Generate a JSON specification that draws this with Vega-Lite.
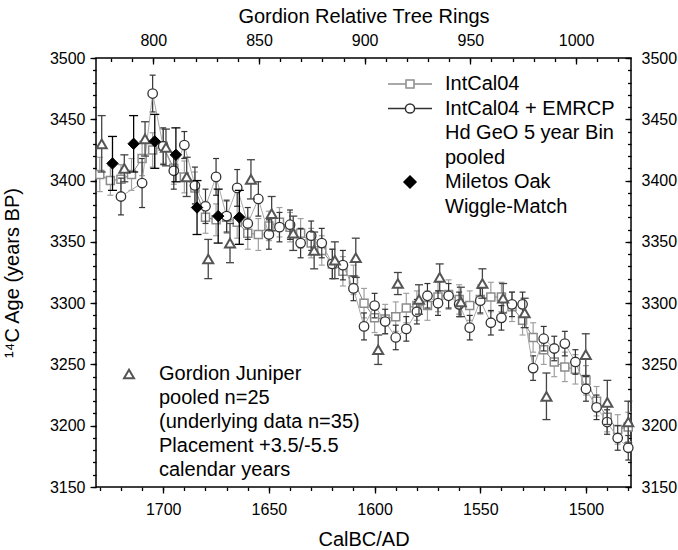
{
"$schema": "https://vega.github.io/schema/vega-lite/v6.json",
"width": 535, "height": 429,
"autosize": {"type": "none"},
"padding": {"left": 96, "top": 58, "right": 47, "bottom": 63},
"background": "white",
"config": {
 "font": "Liberation Sans",
 "view": {"stroke": "black", "strokeWidth": 1.5, "fill": "white"},
 "axis": {"domain": false, "grid": false, "tickColor": "black", "tickWidth": 1.3, "labelColor": "black", "labelFontSize": 16, "titleFontSize": 20, "titleFontWeight": "normal", "titleColor": "black", "labelFont": "Liberation Sans", "titleFont": "Liberation Sans"},
 "legend": {"labelFont": "Liberation Sans", "labelColor": "black"}
},
"data": {"values": [
{"s":"I","x":1730,"y":3405,"lo":3391,"hi":3419},
{"s":"I","x":1725,"y":3400,"lo":3388,"hi":3412},
{"s":"I","x":1720,"y":3401,"lo":3389,"hi":3413},
{"s":"I","x":1715,"y":3405,"lo":3392,"hi":3418},
{"s":"I","x":1710,"y":3418,"lo":3404,"hi":3432},
{"s":"I","x":1705,"y":3425,"lo":3411,"hi":3439},
{"s":"I","x":1700,"y":3428,"lo":3414,"hi":3442},
{"s":"I","x":1695,"y":3410,"lo":3397,"hi":3423},
{"s":"I","x":1690,"y":3403,"lo":3390,"hi":3416},
{"s":"I","x":1685,"y":3394,"lo":3381,"hi":3407},
{"s":"I","x":1680,"y":3370,"lo":3357,"hi":3383},
{"s":"I","x":1675,"y":3368,"lo":3355,"hi":3381},
{"s":"I","x":1670,"y":3370,"lo":3357,"hi":3383},
{"s":"I","x":1665,"y":3366,"lo":3353,"hi":3379},
{"s":"I","x":1660,"y":3357,"lo":3344,"hi":3370},
{"s":"I","x":1655,"y":3356,"lo":3343,"hi":3369},
{"s":"I","x":1650,"y":3363,"lo":3351,"hi":3375},
{"s":"I","x":1645,"y":3366,"lo":3354,"hi":3378},
{"s":"I","x":1640,"y":3362,"lo":3350,"hi":3374},
{"s":"I","x":1635,"y":3357,"lo":3345,"hi":3369},
{"s":"I","x":1630,"y":3349,"lo":3337,"hi":3361},
{"s":"I","x":1625,"y":3343,"lo":3331,"hi":3355},
{"s":"I","x":1620,"y":3332,"lo":3320,"hi":3344},
{"s":"I","x":1615,"y":3326,"lo":3314,"hi":3338},
{"s":"I","x":1610,"y":3319,"lo":3307,"hi":3331},
{"s":"I","x":1605,"y":3300,"lo":3288,"hi":3312},
{"s":"I","x":1600,"y":3288,"lo":3276,"hi":3300},
{"s":"I","x":1595,"y":3287,"lo":3275,"hi":3299},
{"s":"I","x":1590,"y":3289,"lo":3277,"hi":3301},
{"s":"I","x":1585,"y":3296,"lo":3284,"hi":3308},
{"s":"I","x":1580,"y":3298,"lo":3286,"hi":3310},
{"s":"I","x":1575,"y":3298,"lo":3286,"hi":3310},
{"s":"I","x":1570,"y":3305,"lo":3293,"hi":3317},
{"s":"I","x":1565,"y":3307,"lo":3295,"hi":3319},
{"s":"I","x":1560,"y":3303,"lo":3291,"hi":3315},
{"s":"I","x":1555,"y":3298,"lo":3286,"hi":3310},
{"s":"I","x":1550,"y":3303,"lo":3291,"hi":3315},
{"s":"I","x":1545,"y":3305,"lo":3293,"hi":3317},
{"s":"I","x":1540,"y":3305,"lo":3293,"hi":3317},
{"s":"I","x":1535,"y":3297,"lo":3285,"hi":3309},
{"s":"I","x":1530,"y":3286,"lo":3274,"hi":3298},
{"s":"I","x":1525,"y":3272,"lo":3260,"hi":3284},
{"s":"I","x":1520,"y":3262,"lo":3250,"hi":3274},
{"s":"I","x":1515,"y":3252,"lo":3240,"hi":3264},
{"s":"I","x":1510,"y":3248,"lo":3236,"hi":3260},
{"s":"I","x":1505,"y":3246,"lo":3234,"hi":3258},
{"s":"I","x":1500,"y":3237,"lo":3225,"hi":3249},
{"s":"I","x":1495,"y":3220,"lo":3208,"hi":3232},
{"s":"I","x":1490,"y":3207,"lo":3195,"hi":3219},
{"s":"I","x":1485,"y":3197,"lo":3185,"hi":3209},
{"s":"I","x":1480,"y":3199,"lo":3187,"hi":3211},
{"s":"E","x":1720,"y":3387,"lo":3372,"hi":3402},
{"s":"E","x":1710,"y":3398,"lo":3378,"hi":3418},
{"s":"E","x":1705,"y":3471,"lo":3456,"hi":3486},
{"s":"E","x":1700,"y":3428,"lo":3413,"hi":3443},
{"s":"E","x":1695,"y":3408,"lo":3393,"hi":3423},
{"s":"E","x":1690,"y":3429,"lo":3418,"hi":3440},
{"s":"E","x":1685,"y":3396,"lo":3381,"hi":3411},
{"s":"E","x":1680,"y":3379,"lo":3365,"hi":3393},
{"s":"E","x":1675,"y":3403,"lo":3388,"hi":3418},
{"s":"E","x":1670,"y":3371,"lo":3358,"hi":3384},
{"s":"E","x":1665,"y":3394,"lo":3379,"hi":3409},
{"s":"E","x":1660,"y":3365,"lo":3352,"hi":3378},
{"s":"E","x":1655,"y":3385,"lo":3371,"hi":3399},
{"s":"E","x":1650,"y":3356,"lo":3344,"hi":3368},
{"s":"E","x":1645,"y":3362,"lo":3350,"hi":3374},
{"s":"E","x":1640,"y":3364,"lo":3352,"hi":3376},
{"s":"E","x":1635,"y":3349,"lo":3337,"hi":3361},
{"s":"E","x":1630,"y":3355,"lo":3343,"hi":3367},
{"s":"E","x":1625,"y":3349,"lo":3337,"hi":3361},
{"s":"E","x":1620,"y":3332,"lo":3320,"hi":3344},
{"s":"E","x":1615,"y":3331,"lo":3319,"hi":3343},
{"s":"E","x":1610,"y":3312,"lo":3302,"hi":3322},
{"s":"E","x":1605,"y":3281,"lo":3270,"hi":3292},
{"s":"E","x":1600,"y":3298,"lo":3288,"hi":3308},
{"s":"E","x":1595,"y":3285,"lo":3275,"hi":3295},
{"s":"E","x":1590,"y":3272,"lo":3262,"hi":3282},
{"s":"E","x":1585,"y":3279,"lo":3269,"hi":3289},
{"s":"E","x":1580,"y":3293,"lo":3283,"hi":3303},
{"s":"E","x":1575,"y":3306,"lo":3296,"hi":3316},
{"s":"E","x":1570,"y":3300,"lo":3290,"hi":3310},
{"s":"E","x":1565,"y":3306,"lo":3296,"hi":3316},
{"s":"E","x":1560,"y":3299,"lo":3289,"hi":3309},
{"s":"E","x":1555,"y":3280,"lo":3270,"hi":3290},
{"s":"E","x":1550,"y":3302,"lo":3292,"hi":3312},
{"s":"E","x":1545,"y":3284,"lo":3274,"hi":3294},
{"s":"E","x":1540,"y":3288,"lo":3278,"hi":3298},
{"s":"E","x":1535,"y":3299,"lo":3289,"hi":3309},
{"s":"E","x":1530,"y":3299,"lo":3289,"hi":3309},
{"s":"E","x":1525,"y":3247,"lo":3237,"hi":3257},
{"s":"E","x":1520,"y":3271,"lo":3261,"hi":3281},
{"s":"E","x":1515,"y":3263,"lo":3253,"hi":3273},
{"s":"E","x":1510,"y":3267,"lo":3257,"hi":3277},
{"s":"E","x":1505,"y":3252,"lo":3242,"hi":3262},
{"s":"E","x":1500,"y":3230,"lo":3220,"hi":3240},
{"s":"E","x":1495,"y":3215,"lo":3205,"hi":3225},
{"s":"E","x":1490,"y":3203,"lo":3193,"hi":3213},
{"s":"E","x":1485,"y":3190,"lo":3180,"hi":3200},
{"s":"E","x":1480,"y":3182,"lo":3172,"hi":3192},
{"s":"J","x":1729.1,"y":3430,"lo":3407,"hi":3453},
{"s":"J","x":1718.4,"y":3410,"lo":3399,"hi":3421},
{"s":"J","x":1708.6,"y":3434,"lo":3420,"hi":3448},
{"s":"J","x":1698.7,"y":3427,"lo":3412,"hi":3442},
{"s":"J","x":1688.9,"y":3403,"lo":3387,"hi":3419},
{"s":"J","x":1678.7,"y":3336,"lo":3320,"hi":3352},
{"s":"J","x":1668.4,"y":3349,"lo":3333,"hi":3365},
{"s":"J","x":1658.5,"y":3401,"lo":3385,"hi":3417},
{"s":"J","x":1648.7,"y":3373,"lo":3359,"hi":3387},
{"s":"J","x":1638.5,"y":3357,"lo":3343,"hi":3371},
{"s":"J","x":1628.6,"y":3343,"lo":3328,"hi":3358},
{"s":"J","x":1618.8,"y":3335,"lo":3320,"hi":3350},
{"s":"J","x":1608.9,"y":3337,"lo":3321,"hi":3353},
{"s":"J","x":1598.3,"y":3262,"lo":3250,"hi":3274},
{"s":"J","x":1589.0,"y":3316,"lo":3307,"hi":3325},
{"s":"J","x":1579.0,"y":3303,"lo":3291,"hi":3315},
{"s":"J","x":1569.2,"y":3321,"lo":3310,"hi":3332},
{"s":"J","x":1559.2,"y":3301,"lo":3289,"hi":3313},
{"s":"J","x":1549.0,"y":3316,"lo":3304,"hi":3328},
{"s":"J","x":1539.2,"y":3304,"lo":3292,"hi":3316},
{"s":"J","x":1529.0,"y":3292,"lo":3280,"hi":3304},
{"s":"J","x":1518.7,"y":3224,"lo":3205,"hi":3243},
{"s":"J","x":1500.1,"y":3258,"lo":3241,"hi":3275},
{"s":"J","x":1489.9,"y":3219,"lo":3201,"hi":3237},
{"s":"J","x":1480.0,"y":3203,"lo":3186,"hi":3220},
{"s":"M","x":1724,"y":3414,"lo":3392,"hi":3436},
{"s":"M","x":1714,"y":3430,"lo":3407,"hi":3453},
{"s":"M","x":1704,"y":3432,"lo":3410,"hi":3454},
{"s":"M","x":1694,"y":3421,"lo":3399,"hi":3443},
{"s":"M","x":1684,"y":3378,"lo":3356,"hi":3400},
{"s":"M","x":1674,"y":3371,"lo":3349,"hi":3393},
{"s":"M","x":1664,"y":3370,"lo":3348,"hi":3392}
]},
"layer": [
{"transform": [{"filter": "datum.s == 'I'"}],
 "mark": {"type": "rule", "stroke": "#a0a0a0", "strokeWidth": 1.2},
 "encoding": {
  "x": {"field": "x", "type": "quantitative", "scale": {"domain": [1478.7, 1731.8], "reverse": true, "nice": false, "zero": false},
        "axis": {"orient": "bottom", "values": [1700, 1650, 1600, 1550, 1500], "format": "d", "tickSize": 6, "labelPadding": 8, "title": "CalBC/AD", "titlePadding": 12}},
  "y": {"field": "lo", "type": "quantitative", "scale": {"domain": [3150, 3500], "nice": false, "zero": false},
        "axis": {"orient": "left", "values": [3150, 3200, 3250, 3300, 3350, 3400, 3450, 3500], "format": "d", "tickSize": 6, "labelPadding": 5, "title": "¹⁴C Age (years BP)", "titlePadding": 27}},
  "y2": {"field": "hi"}
 }},
{"transform": [{"filter": "datum.s == 'I'"}, {"fold": ["lo", "hi"], "as": ["k", "v"]}],
 "mark": {"type": "tick", "orient": "horizontal", "size": 6, "thickness": 1.2, "color": "#a0a0a0", "opacity": 1},
 "encoding": {
  "x": {"field": "x", "type": "quantitative", "scale": {"domain": [1478.7, 1731.8], "reverse": true, "nice": false, "zero": false},
        "axis": {"orient": "bottom", "values": [1730,1720,1710,1700,1690,1680,1670,1660,1650,1640,1630,1620,1610,1600,1590,1580,1570,1560,1550,1540,1530,1520,1510,1500,1490,1480], "tickSize": 3.5, "labels": false, "title": null}},
  "y": {"field": "v", "type": "quantitative", "scale": {"domain": [3150, 3500], "nice": false, "zero": false},
        "axis": {"orient": "left", "values": [3150,3160,3170,3180,3190,3200,3210,3220,3230,3240,3250,3260,3270,3280,3290,3300,3310,3320,3330,3340,3350,3360,3370,3380,3390,3400,3410,3420,3430,3440,3450,3460,3470,3480,3490,3500], "tickSize": 3.5, "labels": false, "title": null}}
 }},
{"transform": [{"filter": "datum.s == 'I'"}],
 "mark": {"type": "line", "stroke": "#808080", "strokeWidth": 1},
 "encoding": {
  "x": {"field": "x", "type": "quantitative", "scale": {"domain": [1478.7, 1731.8], "reverse": true, "nice": false, "zero": false},
        "axis": {"orient": "top", "values": [1704.7, 1654.7, 1604.7, 1554.7, 1504.7], "labelExpr": "format(2504.7 - datum.value, '.0f')", "tickSize": -6, "labelPadding": 16, "title": "Gordion Relative Tree Rings", "titlePadding": 6}},
  "y": {"field": "y", "type": "quantitative", "scale": {"domain": [3150, 3500], "nice": false, "zero": false},
        "axis": {"orient": "right", "values": [3150, 3200, 3250, 3300, 3350, 3400, 3450, 3500], "format": "d", "tickSize": -6, "labelPadding": 16, "title": null}}
 }},
{"transform": [{"filter": "datum.s == 'I'"}],
 "mark": {"type": "point", "shape": "square", "size": 64, "fill": "white", "fillOpacity": 1, "stroke": "#8c8c8c", "strokeWidth": 1.5, "opacity": 1},
 "encoding": {
  "x": {"field": "x", "type": "quantitative", "scale": {"domain": [1478.7, 1731.8], "reverse": true, "nice": false, "zero": false},
        "axis": {"orient": "top", "values": [1724.7,1714.7,1704.7,1694.7,1684.7,1674.7,1664.7,1654.7,1644.7,1634.7,1624.7,1614.7,1604.7,1594.7,1584.7,1574.7,1564.7,1554.7,1544.7,1534.7,1524.7,1514.7,1504.7,1494.7,1484.7], "tickSize": -3.5, "labels": false, "title": null}},
  "y": {"field": "y", "type": "quantitative", "scale": {"domain": [3150, 3500], "nice": false, "zero": false},
        "axis": {"orient": "right", "values": [3150,3160,3170,3180,3190,3200,3210,3220,3230,3240,3250,3260,3270,3280,3290,3300,3310,3320,3330,3340,3350,3360,3370,3380,3390,3400,3410,3420,3430,3440,3450,3460,3470,3480,3490,3500], "tickSize": -3.5, "labels": false, "title": null}}
 }},
{"transform": [{"filter": "datum.s == 'E'"}],
 "mark": {"type": "rule", "stroke": "#333333", "strokeWidth": 1.2},
 "encoding": {
  "x": {"field": "x", "type": "quantitative", "scale": {"domain": [1478.7, 1731.8], "reverse": true, "nice": false, "zero": false}, "axis": null},
  "y": {"field": "lo", "type": "quantitative", "scale": {"domain": [3150, 3500], "nice": false, "zero": false}, "axis": null},
  "y2": {"field": "hi"}
 }},
{"transform": [{"filter": "datum.s == 'E'"}, {"fold": ["lo", "hi"], "as": ["k", "v"]}],
 "mark": {"type": "tick", "orient": "horizontal", "size": 6, "thickness": 1.2, "color": "#333333", "opacity": 1},
 "encoding": {
  "x": {"field": "x", "type": "quantitative", "scale": {"domain": [1478.7, 1731.8], "reverse": true, "nice": false, "zero": false}, "axis": null},
  "y": {"field": "v", "type": "quantitative", "scale": {"domain": [3150, 3500], "nice": false, "zero": false}, "axis": null}
 }},
{"transform": [{"filter": "datum.s == 'E'"}],
 "mark": {"type": "line", "stroke": "#a8a8a8", "strokeWidth": 1},
 "encoding": {
  "x": {"field": "x", "type": "quantitative", "scale": {"domain": [1478.7, 1731.8], "reverse": true, "nice": false, "zero": false}, "axis": null},
  "y": {"field": "y", "type": "quantitative", "scale": {"domain": [3150, 3500], "nice": false, "zero": false}, "axis": null}
 }},
{"transform": [{"filter": "datum.s == 'E'"}],
 "mark": {"type": "point", "shape": "circle", "size": 90, "fill": "white", "fillOpacity": 1, "stroke": "#333333", "strokeWidth": 1.3, "opacity": 1},
 "encoding": {
  "x": {"field": "x", "type": "quantitative", "scale": {"domain": [1478.7, 1731.8], "reverse": true, "nice": false, "zero": false}, "axis": null},
  "y": {"field": "y", "type": "quantitative", "scale": {"domain": [3150, 3500], "nice": false, "zero": false}, "axis": null}
 }},
{"transform": [{"filter": "datum.s == 'J'"}],
 "mark": {"type": "rule", "stroke": "#444444", "strokeWidth": 1.3},
 "encoding": {
  "x": {"field": "x", "type": "quantitative", "scale": {"domain": [1478.7, 1731.8], "reverse": true, "nice": false, "zero": false}, "axis": null},
  "y": {"field": "lo", "type": "quantitative", "scale": {"domain": [3150, 3500], "nice": false, "zero": false}, "axis": null},
  "y2": {"field": "hi"}
 }},
{"transform": [{"filter": "datum.s == 'J'"}, {"fold": ["lo", "hi"], "as": ["k", "v"]}],
 "mark": {"type": "tick", "orient": "horizontal", "size": 8, "thickness": 1.3, "color": "#444444", "opacity": 1},
 "encoding": {
  "x": {"field": "x", "type": "quantitative", "scale": {"domain": [1478.7, 1731.8], "reverse": true, "nice": false, "zero": false}, "axis": null},
  "y": {"field": "v", "type": "quantitative", "scale": {"domain": [3150, 3500], "nice": false, "zero": false}, "axis": null}
 }},
{"transform": [{"filter": "datum.s == 'J'"}],
 "mark": {"type": "point", "shape": "triangle-up", "size": 100, "fill": "white", "fillOpacity": 1, "stroke": "#555555", "strokeWidth": 2, "opacity": 1},
 "encoding": {
  "x": {"field": "x", "type": "quantitative", "scale": {"domain": [1478.7, 1731.8], "reverse": true, "nice": false, "zero": false}, "axis": null},
  "y": {"field": "y", "type": "quantitative", "scale": {"domain": [3150, 3500], "nice": false, "zero": false}, "axis": null}
 }},
{"transform": [{"filter": "datum.s == 'M'"}],
 "mark": {"type": "rule", "stroke": "black", "strokeWidth": 1.3},
 "encoding": {
  "x": {"field": "x", "type": "quantitative", "scale": {"domain": [1478.7, 1731.8], "reverse": true, "nice": false, "zero": false}, "axis": null},
  "y": {"field": "lo", "type": "quantitative", "scale": {"domain": [3150, 3500], "nice": false, "zero": false}, "axis": null},
  "y2": {"field": "hi"}
 }},
{"transform": [{"filter": "datum.s == 'M'"}, {"fold": ["lo", "hi"], "as": ["k", "v"]}],
 "mark": {"type": "tick", "orient": "horizontal", "size": 9, "thickness": 1.3, "color": "black", "opacity": 1},
 "encoding": {
  "x": {"field": "x", "type": "quantitative", "scale": {"domain": [1478.7, 1731.8], "reverse": true, "nice": false, "zero": false}, "axis": null},
  "y": {"field": "v", "type": "quantitative", "scale": {"domain": [3150, 3500], "nice": false, "zero": false}, "axis": null}
 }},
{"transform": [{"filter": "datum.s == 'M'"}],
 "mark": {"type": "point", "shape": "diamond", "size": 130, "fill": "black", "fillOpacity": 1, "stroke": "black", "strokeWidth": 1, "opacity": 1},
 "encoding": {
  "x": {"field": "x", "type": "quantitative", "scale": {"domain": [1478.7, 1731.8], "reverse": true, "nice": false, "zero": false}, "axis": null},
  "y": {"field": "y", "type": "quantitative", "scale": {"domain": [3150, 3500], "nice": false, "zero": false}, "axis": null}
 }},
{"data": {"values": []},
 "mark": {"type": "point", "strokeWidth": 1.5, "opacity": 1},
 "encoding": {
  "shape": {"field": "series", "type": "nominal",
   "scale": {"domain": ["IntCal04", "IntCal04 + EMRCP", "Hd GeO 5 year Bin", "pooled", "Miletos Oak", "Wiggle-Match"],
             "range": ["M-5.5,0H-1M1,0H5.5M-1,-1H1V1H-1Z", "M-5.5,0H-1.15M1.15,0H5.5M-1.15,0A1.15,1.15,0,1,0,1.15,0A1.15,1.15,0,1,0,-1.15,0Z", "M0,0", "M0,0", "M-1.5,0L0,-1.5L1.5,0L0,1.5Z", "M0,0"]},
   "legend": {"orient": "top-right", "offset": 16, "padding": 0, "title": null, "labelFontSize": 20, "labelLimit": 400, "labelOffset": 25, "symbolSize": 64, "symbolStrokeWidth": 1.5, "rowPadding": 4.5}},
  "stroke": {"field": "series", "type": "nominal",
   "scale": {"domain": ["IntCal04", "IntCal04 + EMRCP", "Hd GeO 5 year Bin", "pooled", "Miletos Oak", "Wiggle-Match"],
             "range": ["#8c8c8c", "#333333", "white", "white", "black", "white"]}},
  "fill": {"field": "series", "type": "nominal",
   "scale": {"domain": ["IntCal04", "IntCal04 + EMRCP", "Hd GeO 5 year Bin", "pooled", "Miletos Oak", "Wiggle-Match"],
             "range": ["white", "white", "transparent", "transparent", "black", "transparent"]}}
 }},
{"data": {"values": []},
 "mark": {"type": "point", "shape": "triangle-up", "filled": false, "strokeWidth": 2, "opacity": 1},
 "encoding": {
  "color": {"field": "juniper", "type": "nominal",
   "scale": {"domain": ["Gordion Juniper", "pooled n=25", "(underlying data n=35)", "Placement +3.5/-5.5", "calendar years"],
             "range": ["#555555", "transparent", "transparent", "transparent", "transparent"]},
   "legend": {"orient": "bottom-left", "offset": 7, "padding": 0, "title": null, "symbolOffset": 16, "symbolType": "triangle-up", "symbolSize": 100, "symbolStrokeWidth": 2, "symbolFillColor": "transparent", "labelFontSize": 20, "labelLimit": 400, "labelOffset": 20, "rowPadding": 4}}
 }}
],
"resolve": {"axis": {"x": "independent", "y": "independent"}}
}
